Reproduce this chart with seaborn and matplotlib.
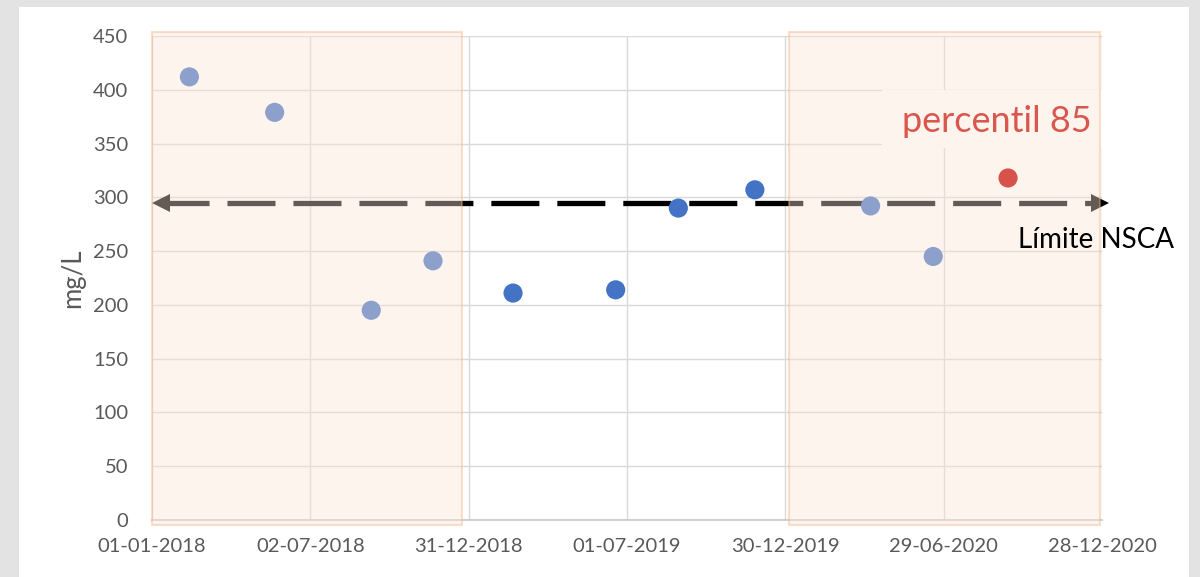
import matplotlib
matplotlib.use("Agg")
import matplotlib.pyplot as plt
import matplotlib.dates as mdates
from matplotlib.patches import Rectangle
import seaborn as sns
import pandas as pd

# ---- data ----
sample_dates = ["2018-02-13", "2018-05-22", "2018-09-10", "2018-11-20", "2019-02-20",
                "2019-06-18", "2019-08-29", "2019-11-25", "2020-04-06", "2020-06-17"]
sample_values = [412, 379, 195, 241, 211, 214, 290, 307, 292, 245]
p85_date = ["2020-09-11"]
p85_value = [318]
limit_value = 295
limit_start, limit_end = "2018-01-11", "2020-12-26"
shade_spans = [("2018-01-01", "2018-12-23"), ("2020-01-03", "2020-12-26")]
tick_dates = ["2018-01-01", "2018-07-02", "2018-12-31", "2019-07-01",
              "2019-12-30", "2020-06-29", "2020-12-28"]
y_ticks = [0, 50, 100, 150, 200, 250, 300, 350, 400, 450]

df = pd.DataFrame({"fecha": pd.to_datetime(sample_dates), "valor": sample_values})
dfp = pd.DataFrame({"fecha": pd.to_datetime(p85_date), "valor": p85_value})

sns.set_theme(style="white")
plt.rcParams["font.family"] = ["Lato", "DejaVu Sans"]

fig = plt.figure(figsize=(12, 5.77), dpi=100, facecolor="#E3E3E3")
fig.patches.append(Rectangle((19 / 1200, 0), (1189 - 19) / 1200, 570 / 577,
                             transform=fig.transFigure, facecolor="white",
                             edgecolor="none", zorder=-10))
ax = fig.add_axes([152 / 1200, 1 - 520 / 577, 950 / 1200, 484 / 577])
ax.set_zorder(1)
ax.set_facecolor("none")

tdates = pd.to_datetime(tick_dates)
ax.set_xlim(tdates[0], tdates[-1])
ax.set_ylim(0, 450)
ax.set_xticks(tdates)
ax.xaxis.set_major_formatter(mdates.DateFormatter("%d-%m-%Y"))
ax.set_yticks(y_ticks)
ax.grid(True, color="#D9D9D9", lw=1.0, zorder=0)
ax.set_axisbelow(True)
for s in ["top", "right", "left"]:
    ax.spines[s].set_visible(False)
ax.spines["bottom"].set_color("#C8C8C8")
ax.spines["bottom"].set_linewidth(1.2)
ax.tick_params(axis="both", length=0, labelcolor="#595959", labelsize=14.5)
ax.tick_params(axis="y", pad=17)
ax.tick_params(axis="x", pad=13)

# white box behind the percentile label
ax.add_patch(Rectangle(((882 - 152) / 950, (520 - 148) / 484), (1106 - 882) / 950,
                       (148 - 90) / 484, transform=ax.transAxes, facecolor="white",
                       edgecolor="none", zorder=1.5, clip_on=False))

# limit line with arrows
ld = pd.to_datetime([limit_start, limit_end])
ax.plot(ld, [limit_value, limit_value], color="black", lw=3.8,
        ls=(0, (9.1, 3.4)), solid_capstyle="butt", dash_capstyle="butt", zorder=2)
ax.plot([ld[0]], [limit_value], marker="<", color="black", markersize=13,
        markeredgewidth=0, zorder=2, clip_on=False)
ax.plot([ld[1]], [limit_value], marker=">", color="black", markersize=13,
        markeredgewidth=0, zorder=2, clip_on=False)

sns.scatterplot(data=df, x="fecha", y="valor", color="#4472C4", s=190,
                edgecolor="none", zorder=2.5, ax=ax)

for a, b in shade_spans:
    ax.axvspan(pd.to_datetime(a), pd.to_datetime(b), ymin=-0.0103, ymax=1.008,
               facecolor=(251 / 255, 229 / 255, 214 / 255, 0.4),
               edgecolor=(244 / 255, 177 / 255, 131 / 255, 0.4), lw=1.5,
               zorder=3, clip_on=False)

sns.scatterplot(data=dfp, x="fecha", y="valor", color="#D6524A", s=190,
                edgecolor="none", zorder=4, ax=ax)

ax.text(pd.to_datetime("2020-12-16"), 360.7, "percentil 85", color="#D9574E",
        fontsize=26, ha="right", va="baseline", zorder=5)
ax.text(pd.to_datetime("2020-09-22"), 253, "Límite NSCA", color="black",
        fontsize=20, ha="left", va="baseline", zorder=5, clip_on=False)

ax.set_xlabel("")
ax.set_ylabel("mg/L", color="#595959", fontsize=18.5, labelpad=6)

fig.savefig("out.png", dpi=100, facecolor=fig.get_facecolor())
